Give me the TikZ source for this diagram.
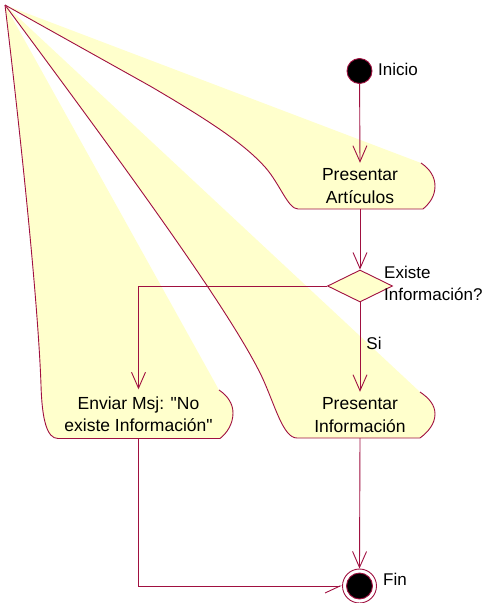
\documentclass[tikz,border=0pt]{standalone}
\usepackage{fontspec}
\setmainfont{Liberation Sans}[Ligatures=TeXOff]
\usetikzlibrary{arrows.meta,shapes.geometric}
\definecolor{rosered}{RGB}{160,16,64}
\definecolor{roseyellow}{RGB}{255,255,204}
\tikzset{
  edge/.style={draw=rosered, line width=0.9pt},
  flow/.style={edge, -{Straight Barb[length=16pt,width=14pt,line width=0.9pt]}},
  halfflow/.style={edge, -{Straight Barb[harpoon,swap,length=15pt,width=14pt,line width=0.9pt]}},
  actfill/.style={fill=roseyellow},
  acttext/.style={align=center, inner sep=0pt, font=\fontsize{17.5}{22.5}\selectfont},
  lbl/.style={inner sep=0pt, font=\fontsize{17}{22}\selectfont},
  startdot/.style={circle, fill=black, draw=rosered, line width=0.9pt, minimum size=25pt, inner sep=0pt},
}
\begin{document}
\begin{tikzpicture}[x=1pt,y=-1pt]
\useasboundingbox (0,0) rectangle (482,603);

% activity shapes, fills first
\path[actfill] (5,5) -- (421,163) .. controls (430,169) and (435,177) .. (435,186)
  .. controls (435,196) and (430,203) .. (423,209) -- (298,209)
  .. controls (288,209) and (280,184) .. (265,167)
  .. controls (245,145) and (215,124) .. (150,86) -- cycle;
\path[actfill] (5,5) -- (420,392) .. controls (429,398) and (435,405) .. (435,414)
  .. controls (435,424) and (428,432) .. (420,438) -- (297,438)
  .. controls (283,438) and (275,405) .. (262,377)
  .. controls (230,310) and (120,160) .. (5,5) -- cycle;
\path[actfill] (5,5) -- (219,390) .. controls (228,396) and (233,404) .. (233,413)
  .. controls (233,424) and (227,433) .. (220,438.5) -- (58,438.5)
  .. controls (47,438.5) and (42,420) .. (41,385)
  .. controls (38,300) and (20,130) .. (5,5) -- cycle;

% activity outlines
\draw[edge] (421,163) .. controls (430,169) and (435,177) .. (435,186)
  .. controls (435,196) and (430,203) .. (423,209) -- (298,209)
  .. controls (288,209) and (280,184) .. (265,167)
  .. controls (245,145) and (215,124) .. (150,86) -- (5,5);
\draw[edge] (420,392) .. controls (429,398) and (435,405) .. (435,414)
  .. controls (435,424) and (428,432) .. (420,438) -- (297,438)
  .. controls (283,438) and (275,405) .. (262,377)
  .. controls (230,310) and (120,160) .. (5,5);
\draw[edge] (219,390) .. controls (228,396) and (233,404) .. (233,413)
  .. controls (233,424) and (227,433) .. (220,438.5) -- (58,438.5)
  .. controls (47,438.5) and (42,420) .. (41,385)
  .. controls (38,300) and (20,130) .. (5,5);

% nodes
\node[startdot] (start) at (359.5,71) {};
\node[lbl, anchor=west] (startlbl) at (378,69) {Inicio};

\node[acttext, minimum height=46pt] (art) at (360,186) {Presentar\\Artículos};
\node[shape=diamond, fill=roseyellow, draw=rosered, line width=0.9pt,
      minimum width=65pt, minimum height=32pt, inner sep=0pt] (dec) at (360,286) {};
\node[lbl, anchor=west, align=left] (declbl) at (384,283) {Existe\\Información?};

\node[acttext, minimum height=46pt] (inf) at (360,415) {Presentar\\Información};
\node[acttext, minimum height=49pt] (env) at (138.5,414) {Enviar Msj: "No\\existe Información"};

\node[circle, draw=rosered, fill=white, line width=0.9pt, minimum size=34pt, inner sep=0pt] (fin) at (359.5,586) {};
\node[circle, draw=rosered, fill=black, line width=0.9pt, minimum size=26pt, inner sep=0pt] (findot) at (fin) {};
\node[lbl, anchor=west] (finlbl) at (383,579) {Fin};

% transitions
\draw[flow] (start) -- (art.north);
\draw[flow] (art.south) -- (dec.north);
\draw[flow] (dec.west) -| (env.north);
\draw[flow] (dec.south) -- node[lbl, anchor=west, pos=0.46, xshift=6pt] (si) {Si} (inf.north);
\draw[flow] (inf.south) -- (fin.north);
\draw[halfflow] (env.south) |- (fin.west);
\end{tikzpicture}
\end{document}
